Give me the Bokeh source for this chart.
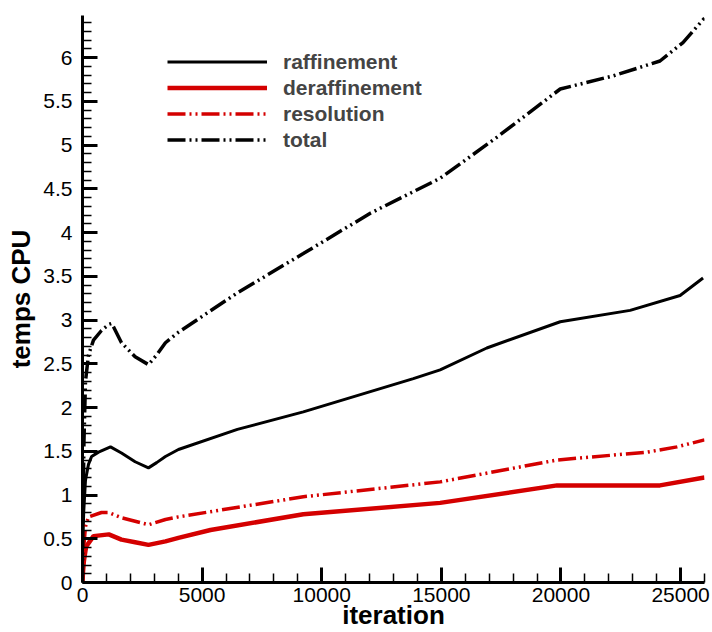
from bokeh.plotting import figure
from bokeh.models import Range1d, Legend, LegendItem, FixedTicker
from bokeh.embed import file_html
from bokeh.resources import INLINE

# --- data ---
raff_x = [0, 20, 50, 125, 250, 380, 670, 1170, 1629, 2200, 2757, 3100, 3467, 4010, 6475, 9230, 13830, 14950, 16900, 19970, 22890, 24980, 25940]
raff_y = [0.0, 0.5, 0.8, 1.17, 1.35, 1.44, 1.49, 1.55, 1.48, 1.38, 1.31, 1.37, 1.44, 1.52, 1.75, 1.95, 2.33, 2.43, 2.68, 2.98, 3.11, 3.28, 3.48]

deraf_x = [0, 20, 60, 150, 460, 1100, 1629, 2200, 2757, 3467, 4010, 5350, 9230, 14950, 19840, 24140, 26000]
deraf_y = [0.0, 0.12, 0.25, 0.41, 0.53, 0.55, 0.49, 0.46, 0.43, 0.47, 0.51, 0.60, 0.78, 0.91, 1.11, 1.11, 1.20]

reso_x = [0, 20, 50, 125, 250, 794, 1100, 1629, 2200, 2757, 3467, 4010, 9230, 14950, 19840, 23600, 24850, 26000]
reso_y = [0.0, 0.2, 0.4, 0.64, 0.75, 0.80, 0.80, 0.74, 0.70, 0.66, 0.72, 0.75, 0.98, 1.15, 1.40, 1.49, 1.55, 1.63]

total_x = [0, 20, 60, 125, 250, 460, 794, 1100, 1211, 1300, 1629, 2200, 2757, 3100, 3467, 4010, 6475, 9230, 12030, 14950, 17330, 19970, 22180, 24140, 25100, 26000]
total_y = [0.0, 0.8, 1.6, 2.3, 2.6, 2.77, 2.88, 2.95, 2.96, 2.92, 2.74, 2.58, 2.49, 2.6, 2.74, 2.86, 3.31, 3.76, 4.22, 4.62, 5.09, 5.64, 5.79, 5.96, 6.17, 6.45]

series_names = ["raffinement", "deraffinement", "resolution", "total"]

x_major_ticks = [0, 5000, 10000, 15000, 20000, 25000]
x_minor_ticks = [1000, 2000, 3000, 4000, 6000, 7000, 8000, 9000, 11000, 12000, 13000, 14000,
                 16000, 17000, 18000, 19000, 21000, 22000, 23000, 24000, 26000]
y_major_ticks = [0, 0.5, 1, 1.5, 2, 2.5, 3, 3.5, 4, 4.5, 5, 5.5, 6]
y_minor_ticks = [0.1, 0.2, 0.3, 0.4, 0.6, 0.7, 0.8, 0.9, 1.1, 1.2, 1.3, 1.4, 1.6, 1.7, 1.8, 1.9,
                 2.1, 2.2, 2.3, 2.4, 2.6, 2.7, 2.8, 2.9, 3.1, 3.2, 3.3, 3.4, 3.6, 3.7, 3.8, 3.9,
                 4.1, 4.2, 4.3, 4.4, 4.6, 4.7, 4.8, 4.9, 5.1, 5.2, 5.3, 5.4, 5.6, 5.7, 5.8, 5.9,
                 6.1, 6.2, 6.3, 6.4]
y_tick_labels = {0: "0", 0.5: "0.5", 1: "1", 1.5: "1.5", 2: "2", 2.5: "2.5", 3: "3", 3.5: "3.5",
                 4: "4", 4.5: "4.5", 5: "5", 5.5: "5.5", 6: "6"}

x_label = "iteration"
y_label = "temps CPU"

FONT = "Liberation Sans"
RED = "#d40000"
TICK = "black"
DASHDOT2 = "18 4 2 4 2 4"

p = figure(width=712, height=632, output_backend="svg", toolbar_location=None,
           x_range=Range1d(0, 26000), y_range=Range1d(0, 6.48),
           min_border_left=82, min_border_right=8, min_border_top=15, min_border_bottom=49)
p.outline_line_color = None
p.xgrid.visible = False
p.ygrid.visible = False

r1 = p.line(raff_x, raff_y, line_color="black", line_width=3)
r2 = p.line(deraf_x, deraf_y, line_color=RED, line_width=4.5)
r3 = p.line(reso_x, reso_y, line_color=RED, line_width=3.5, line_dash=DASHDOT2)
r4 = p.line(total_x, total_y, line_color="black", line_width=3.5, line_dash=DASHDOT2)

for ax in (p.xaxis[0], p.yaxis[0]):
    ax.axis_line_width = 3
    ax.axis_line_color = "black"
    ax.major_tick_in = 15
    ax.major_tick_out = 0
    ax.major_tick_line_color = TICK
    ax.major_tick_line_width = 3
    ax.minor_tick_in = 9
    ax.minor_tick_out = 0
    ax.minor_tick_line_color = TICK
    ax.minor_tick_line_width = 1.5
    ax.major_label_text_font = FONT
    ax.major_label_text_font_size = "21px"
    ax.major_label_text_color = "black"
    ax.axis_label_text_font = FONT
    ax.axis_label_text_font_style = "bold"
    ax.axis_label_text_font_size = "26px"
    ax.axis_label_text_color = "black"

p.xaxis[0].ticker = FixedTicker(ticks=x_major_ticks, minor_ticks=x_minor_ticks)
p.yaxis[0].ticker = FixedTicker(ticks=y_major_ticks, minor_ticks=y_minor_ticks)
p.yaxis[0].major_label_overrides = y_tick_labels
p.xaxis[0].axis_label = x_label
p.yaxis[0].axis_label = y_label
p.xaxis[0].major_label_standoff = 5
p.yaxis[0].major_label_standoff = 10
p.xaxis[0].axis_label_standoff = -5
p.yaxis[0].axis_label_standoff = 4

legend = Legend(items=[LegendItem(label=n, renderers=[r]) for n, r in zip(series_names, [r1, r2, r3, r4])],
                location=(85, 430), glyph_width=100, glyph_height=25, label_height=25,
                label_standoff=16, spacing=1, padding=0, margin=0,
                border_line_color=None, background_fill_alpha=0,
                label_text_font=FONT, label_text_font_style="bold", label_text_font_size="21px")
p.add_layout(legend)

open("out.html", "w").write(file_html(p, INLINE))
